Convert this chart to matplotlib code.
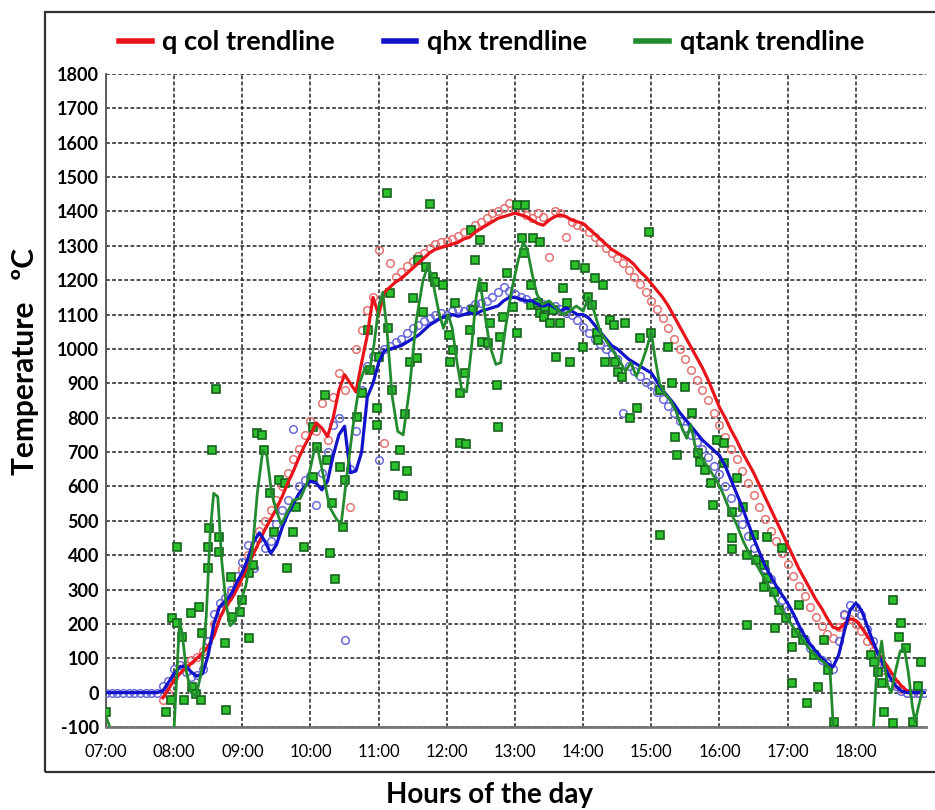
import numpy as np
import matplotlib
matplotlib.use("Agg")
import matplotlib.pyplot as plt
from matplotlib.lines import Line2D
from matplotlib.patches import Rectangle

# ---------------- data (hours of day, values) ----------------
hour_ticks = list(range(7, 19))
hour_labels = [f"{h:02d}:00" for h in hour_ticks]
y_ticks = list(range(-100, 1900, 100))

# q col (red) - 5 min samples starting 07:50
qcol_start = 7 + 50 / 60
qcol_trend = [-15, 10,
    37, 55, 72, 85, 100, 115, 135, 165, 215, 250, 270, 300,
    335, 370, 405, 440, 475, 505, 535, 570, 610, 645, 685, 720,
    750, 785, 770, 745, 800, 880, 925, 900, 875, 960, 1040, 1150,
    1100, 1165, 1180, 1195, 1205, 1220, 1235, 1250, 1265, 1280, 1290, 1295,
    1300, 1305, 1310, 1320, 1325, 1340, 1350, 1360, 1370, 1380, 1385, 1390,
    1395, 1390, 1385, 1375, 1365, 1360, 1375, 1385, 1390, 1385, 1375, 1370,
    1365, 1350, 1335, 1320, 1305, 1290, 1280, 1270, 1260, 1245, 1225, 1210,
    1190, 1170, 1150, 1125, 1095, 1065, 1035, 1005, 975, 945, 910, 870,
    830, 800, 765, 735, 700, 670, 640, 605, 570, 535, 500, 465,
    430, 395, 360, 330, 300, 270, 245, 215, 190, 185, 200, 215,
    210, 190, 165, 140, 115, 90, 65, 40, 20, 5, 0, 0]
qcol_points = [-20, 0,
    45, 70, 80, 95, 105, 120, 150, 200, 240, 260, 290, 320,
    360, 400, 430, 470, 500, 530, 560, 600, 640, 680, 710, 750,
    790, 760, 843, 735, 860, 930, 880, 540, 1000, 1055, 1113, 1150,
    1288, 726, 1250, 1210, 1225, 1240, 1255, 1270, 1280, 1295, 1305, 1310,
    1315, 1320, 1330, 1340, 1350, 1360, 1370, 1380, 1395, 1400, 1410, 1424,
    1405, 1400, 1390, 1380, 1395, 1385, 1268, 1400, 1395, 1326, 1370, 1362,
    1355, 1340, 1325, 1310, 1295, 1280, 1265, 1250, 1230, 1210, 1190, 1165,
    1140, 1115, 1090, 1060, 1030, 1000, 970, 940, 910, 880, 850, 815,
    780, 745, 710, 680, 645, 610, 575, 540, 505, 470, 440, 405,
    375, 340, 310, 280, 250, 220, 195, 170, 160, 190, 225, 215,
    200, 180, 150, 120, 95, 65, 45, 25, 10, 0, 0, 0]

# qhx (blue) - 5 min samples starting 07:00
qhx_start = 7.0
qhx_trend = [0, 0, 0, 0, 0, 0, 0, 0, 0, 0, 5, 30,
    55, 75, 78, 60, 48, 55, 110, 200, 250, 265, 285, 320,
    350, 390, 440, 465, 440, 405, 430, 480, 520, 550, 580, 600,
    615, 610, 590, 615, 690, 750, 775, 640, 645, 700, 860, 900,
    960, 995, 1000, 1005, 1010, 1020, 1030, 1040, 1055, 1070, 1080, 1090,
    1095, 1100, 1095, 1100, 1105, 1100, 1110, 1115, 1120, 1125, 1140, 1150,
    1150, 1145, 1140, 1140, 1130, 1125, 1130, 1120, 1110, 1120, 1110, 1100,
    1100, 1090, 1070, 1050, 1030, 1010, 1000, 985, 970, 960, 950, 940,
    930, 905, 880, 860, 840, 815, 795, 775, 755, 735, 720, 705,
    690, 660, 620, 580, 540, 495, 450, 410, 370, 340, 310, 285,
    260, 230, 195, 165, 140, 120, 100, 85, 75, 110, 180, 240,
    260, 240, 195, 150, 110, 75, 45, 20, 5, 0, 0, 0,
    0]
qhx_points = [0, 0, 0, 0, 0, 0, 0, 0, 0, 0, 20, 35,
    70, 80, 60, 45, 50, 70, 150, 230, 260, 275, 300, 340,
    380, 430, 363, 450, 420, 440, 490, 530, 560, 767, 600, 620,
    630, 546, 640, 700, 780, 800, 153, 650, 760, 880, 950, 980,
    677, 1000, 1010, 1020, 1030, 1045, 1060, 1070, 1080, 1090, 1100, 1105,
    1100, 1110, 1115, 1110, 1120, 1130, 1135, 1140, 1150, 1165, 1180, 1170,
    1160, 1150, 1145, 1135, 1140, 1130, 1120, 1125, 1115, 1105, 1100, 1085,
    1065, 1045, 1030, 1015, 1000, 985, 970, 814, 950, 935, 920, 905,
    895, 875, 855, 835, 815, 790, 770, 750, 730, 710, 685, 660,
    635, 600, 565, 525, 490, 455, 420, 390, 360, 330, 300, 270,
    240, 210, 180, 155, 130, 110, 95, 85, 70, 150, 230, 255,
    250, 225, 185, 150, 110, 75, 45, 20, 5, 0, 0, 0,
    0]

# qtank (green) - measured points
qtank_t = [7.00, 7.88, 7.96, 7.97, 8.04, 8.04, 8.12, 8.15, 8.25, 8.26, 8.32, 8.37,
    8.40, 8.41, 8.49, 8.49, 8.51, 8.56, 8.62, 8.66, 8.66, 8.74, 8.76, 8.84,
    8.85, 8.96, 9.00, 9.10, 9.10, 9.15, 9.21, 9.29, 9.32, 9.40, 9.47, 9.54,
    9.62, 9.66, 9.74, 9.79, 9.91, 10.03, 10.03, 10.10, 10.21, 10.24, 10.28, 10.32,
    10.36, 10.43, 10.47, 10.50, 10.68, 10.76, 10.84, 10.87, 10.97, 10.97, 11.01, 11.12,
    11.13, 11.16, 11.19, 11.24, 11.28, 11.32, 11.35, 11.38, 11.41, 11.46, 11.50, 11.56,
    11.58, 11.65, 11.69, 11.76, 11.79, 11.82, 11.94, 12.03, 12.04, 12.09, 12.12, 12.19,
    12.19, 12.26, 12.28, 12.34, 12.36, 12.38, 12.41, 12.49, 12.51, 12.53, 12.60, 12.63,
    12.73, 12.75, 12.78, 12.83, 12.88, 12.97, 13.03, 13.03, 13.10, 13.13, 13.15, 13.24,
    13.24, 13.27, 13.34, 13.37, 13.37, 13.42, 13.44, 13.51, 13.56, 13.60, 13.66, 13.71,
    13.76, 13.81, 13.88, 14.00, 14.03, 14.07, 14.13, 14.18, 14.20, 14.22, 14.29, 14.32,
    14.40, 14.45, 14.47, 14.51, 14.57, 14.62, 14.69, 14.79, 14.84, 14.96, 15.00, 15.13,
    15.13, 15.25, 15.30, 15.35, 15.38, 15.50, 15.60, 15.68, 15.72, 15.79, 15.87, 15.91,
    15.97, 16.06, 16.06, 16.19, 16.19, 16.19, 16.26, 16.34, 16.41, 16.41, 16.50, 16.53,
    16.65, 16.65, 16.70, 16.70, 16.80, 16.82, 16.87, 16.92, 16.97, 17.07, 17.07, 17.12,
    17.16, 17.22, 17.29, 17.38, 17.44, 17.53, 17.59, 17.68, 18.22, 18.26, 18.32, 18.39,
    18.41, 18.54, 18.54, 18.63, 18.66, 18.73, 18.84, 18.91, 18.96]
qtank_v = [-56, -56, -21, 217, 203, 424, 162, -21, 232, 16, -3, 250,
    -21, 174, 363, 424, 479, 706, 883, 453, 410, 145, -50, 337,
    220, 235, 270, 159, 348, 371, 755, 750, 706, 581, 467, 619,
    610, 363, 467, 540, 424, 773, 627, 715, 866, 677, 406, 552,
    330, 657, 482, 619, 802, 872, 1055, 939, 828, 779, 977, 1454,
    1061, 1163, 881, 660, 575, 706, 572, 811, 645, 962, 1148, 974,
    1259, 1108, 1239, 1422, 1210, 1195, 1186, 1041, 962, 997, 1134, 726,
    872, 930, 723, 1055, 1346, 1113, 1259, 1317, 1020, 1180, 1017, 1075,
    895, 773, 1035, 1093, 1221, 1122, 1046, 1419, 1323, 1279, 1419, 1186,
    1128, 1323, 1134, 1311, 1105, 1093, 1122, 1075, 1113, 977, 1075, 1177,
    1134, 962, 1244, 1006, 1235, 1151, 1128, 1206, 1046, 1026, 1186, 962,
    1084, 1070, 962, 933, 918, 1075, 799, 828, 1032, 1340, 1046, 881,
    459, 1006, 901, 744, 691, 889, 814, 697, 671, 648, 610, 546,
    735, 726, 668, 526, 450, 418, 625, 540, 401, 197, 459, 386,
    371, 308, 453, 334, 293, 188, 240, 421, 217, 133, 29, 174,
    255, 153, -29, 110, 15, 153, 66, -85, 110, 90, 60, 29,
    -56, 270, -88, 162, 203, 130, -85, 18, 90]

# qtank trendline vertices
qtank_trend_t = [7.00, 7.04, 7.08, 7.50, 7.97, 8.00, 8.04, 8.08, 8.12, 8.18, 8.25, 8.32,
    8.40, 8.47, 8.53, 8.58, 8.64, 8.70, 8.76, 8.82, 8.88, 8.95, 9.05, 9.15,
    9.22, 9.30, 9.36, 9.43, 9.50, 9.57, 9.65, 9.75, 9.85, 9.95, 10.05, 10.10,
    10.18, 10.28, 10.38, 10.45, 10.52, 10.62, 10.72, 10.80, 10.86, 10.93, 11.00, 11.06,
    11.12, 11.20, 11.28, 11.36, 11.45, 11.55, 11.65, 11.73, 11.80, 11.88, 11.95, 12.02,
    12.08, 12.15, 12.22, 12.29, 12.36, 12.43, 12.48, 12.55, 12.63, 12.72, 12.79, 12.86,
    12.95, 13.05, 13.12, 13.18, 13.25, 13.32, 13.40, 13.50, 13.60, 13.70, 13.80, 13.90,
    14.00, 14.08, 14.16, 14.25, 14.35, 14.45, 14.55, 14.62, 14.70, 14.78, 14.86, 14.93,
    15.00, 15.05, 15.12, 15.20, 15.28, 15.36, 15.45, 15.52, 15.58, 15.65, 15.75, 15.85,
    15.95, 16.05, 16.15, 16.25, 16.35, 16.45, 16.55, 16.65, 16.75, 16.85, 16.95, 17.05,
    17.15, 17.25, 17.35, 17.45, 17.55, 17.62, 17.67, 17.72, 17.95, 18.20, 18.26, 18.30,
    18.34, 18.38, 18.42, 18.47, 18.52, 18.58, 18.65, 18.71, 18.77, 18.83, 18.87, 18.92,
    18.97]
qtank_trend_v = [-70, -90, -120, -400, -150, -100, 60, 210, 170, 60, 0, -10,
    60, 220, 470, 580, 570, 380, 260, 195, 205, 250, 310, 420,
    580, 705, 690, 580, 530, 490, 520, 560, 565, 610, 700, 715,
    640, 540, 505, 490, 610, 770, 900, 945, 930, 1010, 1120, 1165,
    1060, 860, 760, 750, 880, 1080, 1200, 1245, 1190, 1110, 1060, 1100,
    1060, 960, 880, 875, 1000, 1150, 1205, 1110, 1010, 955, 960, 1060,
    1170, 1260, 1310, 1290, 1220, 1160, 1130, 1140, 1120, 1100, 1110, 1125,
    1110, 1150, 1110, 1050, 1020, 990, 960, 935, 960, 920, 960, 1000,
    1050, 980, 900, 870, 850, 820, 770, 740, 780, 710, 680, 650,
    620, 580, 530, 490, 440, 400, 370, 335, 300, 260, 230, 200,
    170, 145, 120, 100, 85, 70, -100, -200, -400, -250, -100, 40,
    100, 150, 80, 20, 0, 60, 120, 130, 60, -40, -85, -40,
    0]

series_names = ["q col trendline", "qhx trendline", "qtank trendline"]

# ---------------- styling ----------------
RED = "#e8141c"
RED_PT = "#e57373"
BLUE = "#1212c8"
BLUE_PT = "#6a6ad8"
GREEN = "#238b2e"
GREEN_PT_FACE = "#2dc02d"
GREEN_PT_EDGE = "#16641c"

plt.rcParams["font.family"] = ["Lato", "DejaVu Sans"]

fig = plt.figure(figsize=(9.35, 8.10), dpi=100)
ax = fig.add_axes([106 / 935, 1 - 727 / 810, (926 - 106) / 935, (727 - 74) / 810])

t_col = qcol_start + np.arange(len(qcol_points)) * 5 / 60
t_hx = qhx_start + np.arange(len(qhx_points)) * 5 / 60

ax.plot(t_col, qcol_points, linestyle="none", marker="o", ms=5.5, mfc="none",
        mec=RED_PT, mew=1.1, zorder=3)
ax.plot(t_hx, qhx_points, linestyle="none", marker="o", ms=5.5, mfc="none",
        mec=BLUE_PT, mew=1.1, zorder=3)
ax.plot(qtank_t, qtank_v, linestyle="none", marker="s", ms=5.2, mfc=GREEN_PT_FACE,
        mec=GREEN_PT_EDGE, mew=1.2, zorder=4)

ax.plot(t_col, qcol_trend, color=RED, lw=2.3, zorder=5)
ax.plot(t_hx, qhx_trend, color=BLUE, lw=2.3, zorder=5)
ax.plot(qtank_trend_t, qtank_trend_v, color=GREEN, lw=2.0, zorder=6)

ax.set_xlim(7.0, 19.03)
ax.set_ylim(-100, 1800)
ax.set_xticks(hour_ticks)
ax.set_xticklabels(hour_labels)
ax.set_yticks(y_ticks)
ax.set_yticklabels([str(v) for v in y_ticks])

ax.grid(True, color="#222222", linestyle=(0, (2.5, 1.5)), linewidth=1.1, zorder=0)
ax.set_axisbelow(True)
for s in ["top", "right"]:
    ax.spines[s].set_visible(False)
ax.spines["left"].set_color("#555555")
ax.spines["left"].set_linewidth(1.3)
ax.spines["bottom"].set_color("#777777")
ax.spines["bottom"].set_linewidth(2.0)
ax.tick_params(axis="both", length=0)
ax.tick_params(axis="y", pad=5)
ax.tick_params(axis="x", pad=12)
for lab in ax.get_yticklabels():
    lab.set_fontweight("bold")
    lab.set_fontsize(13)
for lab in ax.get_xticklabels():
    lab.set_fontsize(12)

# outer frame
fig.patches.append(Rectangle((45 / 935, 1 - 772 / 810), (940 - 45) / 935, (772 - 12) / 810,
                             transform=fig.transFigure, fill=False, edgecolor="#333333",
                             lw=1.6))

handles = [Line2D([], [], color=RED, lw=4),
           Line2D([], [], color=BLUE, lw=4),
           Line2D([], [], color=GREEN, lw=4)]
fig.legend(handles, series_names, loc="center", bbox_to_anchor=(0.5257, 1 - 42 / 810),
           ncol=3, frameon=False, handlelength=1.2, handletextpad=0.4,
           columnspacing=1.8, prop={"weight": "bold", "size": 19.5})

fig.text(25 / 935, 1 - 362 / 810, "Temperature   ºC", rotation=90, ha="center",
         va="center", fontsize=21.5, fontweight="bold")
fig.text(490 / 935, 1 - 795 / 810, "Hours of the day", ha="center", va="center",
         fontsize=20, fontweight="bold")

fig.savefig("out.png", dpi=100)
